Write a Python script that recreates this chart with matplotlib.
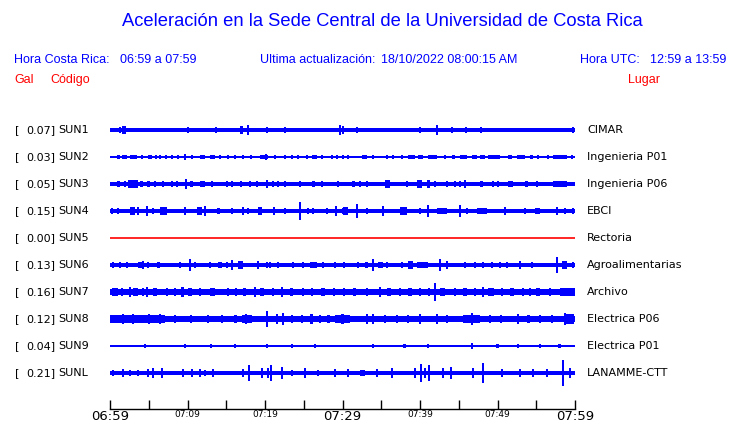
import matplotlib
matplotlib.use('Agg')
import matplotlib.pyplot as plt

# station info
codes = ['SUN1', 'SUN2', 'SUN3', 'SUN4', 'SUN5', 'SUN6', 'SUN7', 'SUN8', 'SUN9', 'SUNL']
peaks = ['0.07', '0.03', '0.05', '0.15', '0.00', '0.13', '0.16', '0.12', '0.04', '0.21']
places = ['CIMAR', 'Ingenieria P01', 'Ingenieria P06', 'EBCI', 'Rectoria',
          'Agroalimentarias', 'Archivo', 'Electrica P06', 'Electrica P01', 'LANAMME-CTT']

# background noise half amplitude of each trace (in trace spacings)
base_amp = [0.075, 0.022, 0.09, 0.09, 0.0, 0.075, 0.115, 0.125, 0.055, 0.08]

# bursts: (start minute, end minute, half amplitude)
sun1 = [(1.3, 1.3, 0.11), (1.6, 2.1, 0.13), (10.1, 10.1, 0.11), (13.7, 13.7, 0.11),
        (16.8, 17.1, 0.13), (17.8, 17.8, 0.17), (20.3, 20.3, 0.11), (22.6, 22.6, 0.11),
        (29.7, 29.7, 0.19), (30.1, 30.1, 0.15), (31.9, 31.9, 0.11), (40.0, 40.0, 0.11),
        (42.2, 42.2, 0.17), (44.1, 44.1, 0.11), (45.9, 45.9, 0.11), (47.9, 47.9, 0.11),
        (50.5, 60.0, 0.09), (59.7, 59.7, 0.11)]
sun2 = [(0.9, 1.3, 0.07), (1.5, 2.2, 0.085), (2.6, 3.5, 0.085), (4.1, 4.1, 0.07),
        (4.9, 5.4, 0.085), (5.8, 6.1, 0.07), (6.5, 6.5, 0.07), (7.2, 7.2, 0.07),
        (8.0, 8.0, 0.07), (8.8, 8.8, 0.07), (9.7, 9.7, 0.11), (10.6, 10.6, 0.085),
        (11.6, 12.3, 0.085), (12.9, 13.5, 0.07), (14.2, 14.2, 0.07), (15.2, 15.2, 0.07),
        (16.1, 16.1, 0.07), (17.2, 17.2, 0.07), (18.1, 18.3, 0.085), (19.4, 20.4, 0.085),
        (20.1, 20.1, 0.11), (21.3, 21.3, 0.07), (22.6, 22.6, 0.07), (23.5, 23.5, 0.07),
        (24.3, 24.3, 0.07), (25.4, 25.4, 0.07), (26.1, 26.7, 0.085), (27.4, 27.4, 0.07),
        (28.6, 28.6, 0.07), (29.3, 29.3, 0.07), (30.1, 30.1, 0.07), (30.7, 30.7, 0.07),
        (32.5, 33.2, 0.07), (33.9, 33.9, 0.07), (35.7, 35.7, 0.07), (36.5, 36.5, 0.07),
        (37.7, 37.7, 0.07), (38.5, 39.4, 0.085), (39.7, 40.4, 0.085), (41.0, 42.2, 0.085),
        (43.2, 43.2, 0.07), (44.1, 44.5, 0.085), (45.2, 46.1, 0.07), (46.7, 47.4, 0.07),
        (47.7, 48.4, 0.085), (48.8, 50.3, 0.085), (51.4, 51.9, 0.07), (52.5, 53.5, 0.085),
        (54.2, 54.6, 0.07), (55.2, 55.2, 0.07), (56.5, 56.5, 0.07), (57.2, 59.0, 0.085),
        (59.6, 59.7, 0.07)]
sun3 = [(0.9, 1.3, 0.12), (1.9, 1.9, 0.12), (2.3, 3.6, 0.13), (3.9, 4.3, 0.12),
        (4.8, 5.2, 0.12), (5.8, 5.8, 0.12), (6.8, 6.8, 0.12), (8.0, 8.0, 0.12),
        (8.6, 8.6, 0.12), (9.7, 9.9, 0.17), (10.3, 10.7, 0.12), (11.6, 12.3, 0.12),
        (13.2, 13.2, 0.12), (15.1, 15.1, 0.12), (15.7, 15.7, 0.12), (16.8, 17.0, 0.12),
        (18.1, 18.1, 0.12), (19.0, 19.0, 0.12), (20.3, 20.3, 0.15), (21.0, 21.0, 0.12),
        (21.7, 21.7, 0.12), (22.6, 22.6, 0.12), (24.5, 24.5, 0.12), (26.1, 26.5, 0.12),
        (27.4, 27.4, 0.12), (29.4, 29.4, 0.12), (31.2, 31.6, 0.12), (32.3, 32.3, 0.12),
        (33.2, 33.2, 0.12), (35.5, 36.1, 0.15), (38.3, 38.3, 0.12), (39.6, 40.3, 0.13),
        (40.9, 41.3, 0.13), (41.9, 41.9, 0.12), (43.5, 43.5, 0.12), (44.5, 44.5, 0.12),
        (45.2, 45.2, 0.12), (45.8, 45.8, 0.15), (47.7, 48.1, 0.12), (49.4, 49.4, 0.12),
        (50.1, 50.1, 0.12), (51.4, 52.0, 0.12), (53.6, 53.9, 0.12), (55.1, 55.1, 0.12),
        (57.2, 59.0, 0.12)]
sun4 = [(0.3, 0.3, 0.11), (1.0, 1.0, 0.11), (2.6, 3.2, 0.13), (3.6, 3.6, 0.15),
        (4.8, 4.8, 0.17), (5.6, 5.6, 0.12), (6.5, 7.4, 0.14), (9.7, 9.7, 0.15),
        (11.2, 11.9, 0.14), (12.3, 12.3, 0.19), (14.0, 14.0, 0.12), (15.7, 15.7, 0.12),
        (17.2, 17.2, 0.13), (17.8, 17.8, 0.12), (19.1, 19.6, 0.15), (21.0, 21.3, 0.14),
        (22.6, 22.6, 0.12), (24.5, 24.5, 0.32), (25.5, 25.5, 0.12), (26.2, 26.2, 0.12),
        (28.0, 28.0, 0.12), (29.0, 29.3, 0.17), (30.1, 30.1, 0.12), (30.1, 30.7, 0.13),
        (31.9, 31.9, 0.26), (33.2, 33.2, 0.12), (35.2, 35.2, 0.17), (37.4, 38.3, 0.16),
        (40.0, 40.0, 0.12), (41.0, 41.0, 0.22), (42.2, 43.5, 0.12), (45.2, 45.2, 0.22),
        (46.1, 46.1, 0.12), (47.4, 48.6, 0.12), (51.0, 51.0, 0.15), (53.5, 53.5, 0.12),
        (54.8, 55.5, 0.12), (57.7, 57.7, 0.15), (58.7, 58.7, 0.12), (59.7, 59.7, 0.12)]
sun5 = []
sun6 = [(0.4, 0.4, 0.11), (1.3, 1.3, 0.11), (2.2, 2.2, 0.11), (3.6, 4.1, 0.12),
        (4.3, 4.3, 0.13), (4.9, 4.9, 0.11), (6.1, 6.5, 0.11), (9.0, 9.0, 0.11),
        (10.3, 10.3, 0.21), (11.0, 11.0, 0.11), (12.9, 12.9, 0.11), (13.9, 14.5, 0.11),
        (15.1, 15.1, 0.11), (15.7, 15.7, 0.2), (16.5, 17.2, 0.13), (19.1, 19.1, 0.13),
        (20.3, 20.3, 0.11), (20.6, 20.6, 0.11), (21.7, 21.7, 0.11), (23.6, 23.6, 0.11),
        (24.9, 24.9, 0.11), (25.8, 26.7, 0.1), (27.5, 27.5, 0.11), (29.0, 29.0, 0.11),
        (30.1, 30.3, 0.11), (32.0, 32.0, 0.11), (32.9, 33.3, 0.11), (33.9, 33.9, 0.22),
        (34.6, 35.2, 0.12), (35.7, 35.7, 0.11), (37.7, 37.7, 0.11), (38.5, 39.1, 0.13),
        (39.6, 41.0, 0.12), (42.6, 42.6, 0.22), (43.5, 43.5, 0.15), (45.8, 45.8, 0.11),
        (47.1, 47.1, 0.11), (48.1, 48.1, 0.11), (49.3, 49.3, 0.11), (50.3, 50.3, 0.11),
        (51.2, 51.2, 0.11), (52.9, 52.9, 0.13), (54.5, 54.5, 0.11), (57.7, 57.7, 0.28),
        (58.3, 59.0, 0.13), (59.7, 59.7, 0.11)]
sun7 = [(0.3, 1.0, 0.15), (1.6, 1.6, 0.15), (2.6, 2.6, 0.17), (3.0, 3.6, 0.15),
        (4.3, 4.3, 0.15), (4.8, 4.8, 0.17), (5.5, 6.1, 0.15), (7.4, 7.4, 0.15),
        (8.4, 8.4, 0.15), (9.3, 9.4, 0.19), (10.0, 10.6, 0.15), (11.6, 11.6, 0.15),
        (12.9, 13.5, 0.15), (15.2, 15.2, 0.15), (16.3, 16.3, 0.15), (17.2, 17.6, 0.15),
        (18.7, 18.7, 0.17), (19.4, 19.9, 0.15), (21.0, 21.0, 0.15), (22.2, 22.2, 0.19),
        (23.2, 23.6, 0.15), (24.9, 24.9, 0.15), (26.1, 26.1, 0.15), (27.2, 27.7, 0.15),
        (28.9, 28.9, 0.15), (30.2, 30.2, 0.15), (31.3, 31.8, 0.15), (33.2, 33.2, 0.15),
        (34.8, 34.8, 0.17), (35.7, 36.2, 0.15), (37.4, 37.4, 0.15), (38.5, 39.0, 0.15),
        (40.0, 40.0, 0.15), (41.2, 41.2, 0.15), (41.9, 41.9, 0.35), (42.6, 43.2, 0.15),
        (44.5, 44.5, 0.15), (45.5, 46.0, 0.15), (47.1, 47.1, 0.15), (48.1, 48.1, 0.17),
        (48.8, 49.5, 0.15), (50.6, 50.6, 0.15), (51.6, 52.1, 0.15), (53.3, 53.3, 0.15),
        (54.2, 54.2, 0.15), (55.0, 55.5, 0.15), (56.8, 56.8, 0.15), (58.0, 60.0, 0.15)]
sun8 = [(0.0, 7.1, 0.15), (1.7, 1.7, 0.2), (3.0, 3.0, 0.17), (5.0, 5.0, 0.17),
        (6.5, 6.5, 0.19), (8.4, 8.4, 0.15), (10.5, 10.5, 0.15), (12.6, 12.6, 0.15),
        (14.4, 14.4, 0.15), (16.2, 16.2, 0.15), (17.0, 18.3, 0.16), (17.6, 17.6, 0.19),
        (20.3, 20.3, 0.3), (21.5, 21.5, 0.17), (22.3, 22.3, 0.22), (23.5, 23.5, 0.15),
        (24.8, 24.8, 0.15), (26.0, 26.0, 0.17), (27.0, 27.2, 0.15), (28.2, 28.2, 0.15),
        (29.0, 31.0, 0.15), (30.0, 30.0, 0.19), (33.2, 33.2, 0.2), (33.9, 33.9, 0.19),
        (35.5, 35.5, 0.15), (37.0, 37.0, 0.15), (38.5, 38.5, 0.15), (40.0, 40.0, 0.2),
        (42.2, 42.2, 0.19), (43.5, 43.5, 0.15), (45.5, 47.7, 0.16), (46.7, 46.7, 0.24),
        (49.0, 49.0, 0.15), (50.5, 50.5, 0.15), (52.6, 52.6, 0.2), (54.0, 54.0, 0.15),
        (55.5, 55.5, 0.15), (57.0, 57.0, 0.15), (58.7, 58.7, 0.22), (58.9, 59.9, 0.17)]
sun9 = [(4.5, 4.5, 0.075), (9.7, 9.7, 0.09), (13.0, 13.0, 0.075), (16.1, 16.1, 0.075),
        (20.3, 20.3, 0.09), (23.5, 23.5, 0.075), (26.5, 26.5, 0.075), (33.9, 33.9, 0.09),
        (38.0, 38.0, 0.075), (41.0, 41.0, 0.075), (46.7, 46.7, 0.11), (50.0, 50.0, 0.075),
        (52.6, 52.6, 0.09), (55.5, 55.5, 0.075), (58.0, 58.0, 0.075)]
sunl = [(0.4, 0.4, 0.11), (1.7, 1.7, 0.13), (2.6, 2.6, 0.11), (3.6, 3.6, 0.11),
        (4.9, 4.9, 0.15), (5.5, 5.5, 0.2), (6.7, 6.7, 0.17), (9.4, 9.4, 0.15),
        (10.6, 10.6, 0.15), (11.6, 11.6, 0.13), (12.3, 12.3, 0.11), (13.3, 13.3, 0.13),
        (17.2, 17.2, 0.15), (17.9, 17.9, 0.28), (19.6, 19.6, 0.19), (20.4, 20.4, 0.2),
        (20.8, 20.8, 0.3), (22.2, 22.2, 0.22), (23.5, 23.5, 0.11), (25.2, 25.2, 0.17),
        (26.8, 26.8, 0.11), (29.0, 29.0, 0.13), (30.7, 30.7, 0.13), (32.3, 32.9, 0.12),
        (34.5, 34.5, 0.13), (36.4, 36.4, 0.17), (39.4, 39.4, 0.19), (40.1, 40.1, 0.35),
        (40.6, 40.6, 0.2), (41.2, 41.2, 0.28), (43.0, 43.0, 0.17), (44.0, 44.0, 0.22),
        (46.8, 46.8, 0.17), (48.1, 48.1, 0.37), (50.6, 50.6, 0.15), (52.9, 52.9, 0.15),
        (54.6, 54.6, 0.13), (56.4, 56.4, 0.13), (58.5, 58.5, 0.48), (59.4, 59.4, 0.19)]
bursts = [sun1, sun2, sun3, sun4, sun5, sun6, sun7, sun8, sun9, sunl]

# time axis, minutes after 06:59
tick_min = list(range(0, 61, 5))
tick_txt = ['06:59', '', '07:09', '', '07:19', '', '07:29', '', '07:39', '', '07:49', '', '07:59']

blue = '#0000ff'
red = '#ff0000'

fig = plt.figure(figsize=(7.4, 4.23), dpi=100)
W, H = 740.0, 423.0
ax = fig.add_axes([110 / W, (H - 409) / H, 465 / W, 294 / H])

for i in range(len(codes)):
    if codes[i] == 'SUN5':
        ax.plot([0, 60], [i, i], color=red, lw=1.2)
    else:
        b = base_amp[i]
        ax.fill_between([0, 60], i - b, i + b, color=blue, lw=0)
        for s, e, a in bursts[i]:
            w = max(e - s, 0.28)
            ax.bar((s + e) / 2, 2 * a, width=w, bottom=i - a, color=blue, lw=0)
    y = 1 - (130 + 27 * i) / H
    fig.text(15 / W, y, '[', fontsize=8, va='center', ha='left')
    fig.text(55 / W, y, peaks[i] + ']', fontsize=8, va='center', ha='right')
    fig.text(58 / W, y, codes[i], fontsize=8, va='center', ha='left')
    fig.text(587 / W, y, places[i], fontsize=8, va='center', ha='left')

ax.set_xlim(0, 60)
ax.set_ylim((409 - 130) / 27, (115 - 130) / 27)
for sp in ['top', 'left', 'right']:
    ax.spines[sp].set_visible(False)
ax.spines['bottom'].set_linewidth(1.0)
ax.set_yticks([])
ax.set_xticks(tick_min)
ax.set_xticklabels(tick_txt)
ax.tick_params(axis='x', direction='in', length=6.5, width=1.0, pad=1)
for lab in ax.get_xticklabels():
    if lab.get_text() in ('06:59', '07:29', '07:59'):
        lab.set_fontsize(9.5)
    else:
        lab.set_fontsize(6.5)

hf = 'Liberation Sans'
fig.text(382 / W, 1 - 22 / H, 'Aceleración en la Sede Central de la Universidad de Costa Rica',
         color=blue, fontsize=13.2, family=hf, ha='center', va='center')
fig.text(14 / W, 1 - 60 / H, 'Hora Costa Rica:', color=blue, fontsize=9, family=hf, va='center')
fig.text(120 / W, 1 - 60 / H, '06:59 a 07:59', color=blue, fontsize=9, family=hf, va='center')
fig.text(260 / W, 1 - 60 / H, 'Ultima actualización:', color=blue, fontsize=9, family=hf, va='center')
fig.text(381 / W, 1 - 60 / H, '18/10/2022 08:00:15 AM', color=blue, fontsize=9, family=hf, va='center')
fig.text(580 / W, 1 - 60 / H, 'Hora UTC:', color=blue, fontsize=9, family=hf, va='center')
fig.text(650 / W, 1 - 60 / H, '12:59 a 13:59', color=blue, fontsize=9, family=hf, va='center')
fig.text(14 / W, 1 - 80 / H, 'Gal', color=red, fontsize=9, family=hf, va='center')
fig.text(50 / W, 1 - 80 / H, 'Código', color=red, fontsize=9, family=hf, va='center')
fig.text(628 / W, 1 - 80 / H, 'Lugar', color=red, fontsize=9, family=hf, va='center')

fig.savefig('out.png', dpi=100)
